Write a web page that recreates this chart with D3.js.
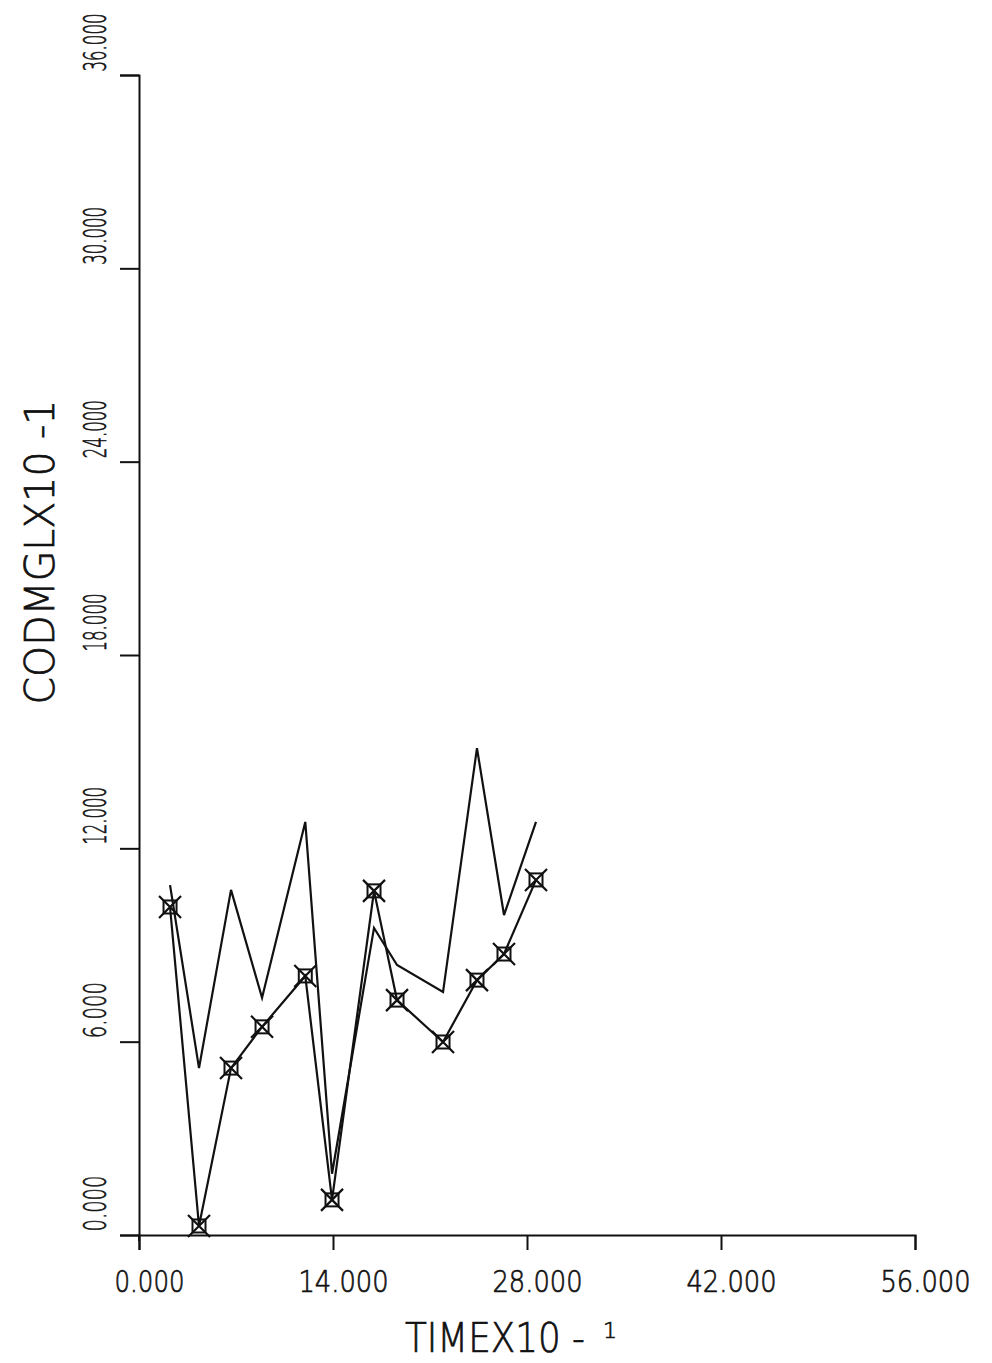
<!DOCTYPE html>
<html>
<head>
<meta charset="utf-8">
<script src="https://cdn.jsdelivr.net/npm/d3@7"></script>
<style>
  html, body { margin: 0; padding: 0; background: #fff; }
  svg { display: block; }
  text { font-family: 'DejaVu Sans', 'Liberation Sans Narrow', sans-serif; font-weight: 200; fill: #111; stroke: #111; stroke-width: 0.7px; }
</style>
</head>
<body>
<svg id="chart" width="992" height="1363"></svg>
<script>
// ---- data ----
const timeValues   = [2.24, 4.33, 6.64, 8.88, 12.0, 13.93, 16.96, 18.62, 21.94, 24.39, 26.34, 28.65];
const markedSeries = [10.18, 0.28, 5.18, 6.46, 8.04, 1.09, 10.68, 7.29, 5.99, 7.91, 8.72, 11.02];
const plainSeries  = [10.86, 5.18, 10.71, 7.36, 12.82, 1.9, 9.53, 8.38, 7.54, 15.11, 9.93, 12.82];
const xTicks = [0, 14, 28, 42, 56];
const yTicks = [0, 6, 12, 18, 24, 30, 36];
const xTitle = "TIMEX10 -";
const xTitleExp = "1";
const yTitle = "CODMGLX10 -1";

// ---- layout ----
const svg = d3.select("#chart");
const x = d3.scaleLinear().domain([0, 56]).range([139, 915]);
const y = d3.scaleLinear().domain([0, 36]).range([1235, 75]);
const ink = "#111";
const fmt = d3.format(".3f");

// scale a text horizontally (in its own frame) so its length equals target
function squeeze(node, target) {
  const len = node.getComputedTextLength();
  return len > 0 ? target / len : 1;
}

// axes
const gx = svg.append("g").attr("transform", `translate(0,${y(0)})`)
  .call(d3.axisBottom(x).tickValues(xTicks).tickSize(15).tickSizeOuter(15).tickFormat(fmt));
const gy = svg.append("g").attr("transform", `translate(${x(0)},0)`)
  .call(d3.axisLeft(y).tickValues(yTicks).tickSize(19).tickSizeOuter(19).tickFormat(fmt));

[gx, gy].forEach(g => {
  g.attr("font-family", null).attr("font-size", null);
  g.selectAll("path.domain").attr("stroke", ink).attr("stroke-width", 2);
  g.selectAll(".tick line").attr("stroke", ink).attr("stroke-width", 2);
});

// x tick labels
gx.selectAll(".tick text")
  .attr("fill", ink)
  .attr("font-size", 30)
  .attr("x", 0).attr("y", 0).attr("dy", null)
  .attr("text-anchor", "middle")
  .each(function(d) {
    const s = squeeze(this, fmt(d).length === 5 ? 70 : 90);
    d3.select(this).attr("transform", `translate(10,57) scale(${s},1)`);
  });

// y tick labels (rotated)
gy.selectAll(".tick text")
  .attr("fill", ink)
  .attr("font-size", 32)
  .attr("x", 0).attr("y", 0).attr("dy", null)
  .attr("text-anchor", "start")
  .each(function(d) {
    const s = squeeze(this, fmt(d).length === 5 ? 56 : 58);
    d3.select(this).attr("transform", `translate(-33,-4) rotate(-90) scale(${s},1)`);
  });

// small extension of y axis below x axis
svg.append("line").attr("x1", x(0)).attr("x2", x(0)).attr("y1", y(0)).attr("y2", y(0) + 6)
  .attr("stroke", ink).attr("stroke-width", 2);

// lines
const line = d3.line().x((d, i) => x(timeValues[i])).y(d => y(d));
svg.append("path").datum(plainSeries).attr("d", line)
  .attr("fill", "none").attr("stroke", ink).attr("stroke-width", 2.2);
svg.append("path").datum(markedSeries).attr("d", line)
  .attr("fill", "none").attr("stroke", ink).attr("stroke-width", 2.2);

// markers: square with X
const mk = svg.append("g").selectAll("g").data(markedSeries).join("g")
  .attr("transform", (d, i) => `translate(${x(timeValues[i])},${y(d)})`);
mk.append("rect").attr("x", -6.5).attr("y", -6.5).attr("width", 13).attr("height", 13)
  .attr("fill", "none").attr("stroke", ink).attr("stroke-width", 2);
mk.append("path").attr("d", "M-11,-11L11,11M11,-11L-11,11")
  .attr("stroke", ink).attr("stroke-width", 2.2);

// titles
const xt = svg.append("text").attr("font-size", 40).text(xTitle);
xt.attr("transform", `translate(405,1352) scale(${squeeze(xt.node(), 180)},1)`);
svg.append("text").attr("x", 603).attr("y", 1338).attr("font-size", 22)
  .text(xTitleExp);

const yt = svg.append("text").attr("text-anchor", "middle").attr("font-size", 40).text(yTitle);
yt.attr("transform", `translate(54,552) rotate(-90) scale(${squeeze(yt.node(), 305)},1)`);
</script>
</body>
</html>
